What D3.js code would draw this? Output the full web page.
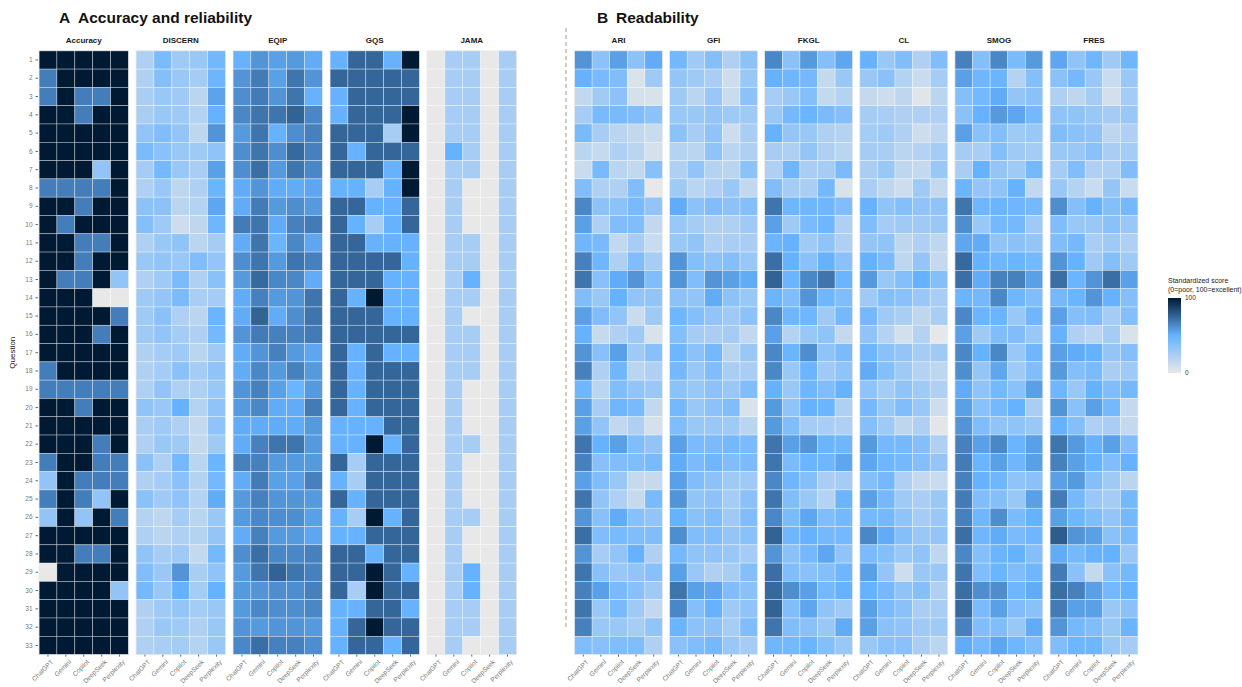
<!DOCTYPE html>
<html>
<head>
<meta charset="utf-8">
<script src="https://cdn.jsdelivr.net/npm/d3@7.9.0/dist/d3.min.js"></script>
<style>
  body { margin: 0; background: #fff; }
  text { font-family: "Liberation Sans", Arial, sans-serif; }
</style>
</head>
<body>
<svg id="chart" width="1242" height="687"></svg>
<script>
const models = ["ChatGPT", "Gemini", "Copilot", "DeepSeek", "Perplexity"];
const questions = d3.range(1, 34);

// standardized scores, one row per question, columns follow `models`
const accuracy = [
  [100,100,100,100,100],[67,100,100,100,100],[67,100,67,67,100],[100,100,67,100,100],[100,100,100,100,100],
  [100,100,100,100,100],[100,100,100,33,100],[67,67,67,67,100],[100,100,67,100,100],[100,67,100,100,100],
  [100,100,67,67,100],[100,100,67,100,100],[100,67,67,100,33],[100,100,100,0,0],[100,100,100,100,67],
  [100,100,100,67,100],[100,100,100,100,100],[67,100,100,100,100],[67,67,67,67,67],[100,100,67,100,100],
  [100,100,100,100,100],[100,100,100,67,100],[67,100,100,67,67],[33,100,67,67,67],[67,100,67,33,100],
  [33,100,33,100,67],[100,100,100,100,100],[100,100,67,67,100],[0,100,100,100,100],[100,100,100,100,33],
  [100,100,100,100,100],[100,100,100,100,100],[100,100,100,100,100]
];
const discern = [
  [22,42,28,30,45],[22,38,30,26,47],[24,30,28,18,55],[24,30,28,20,50],[33,40,32,16,60],
  [42,36,30,28,34],[26,44,30,24,56],[22,30,16,22,48],[35,35,18,20,54],[38,28,10,16,46],
  [22,30,34,18,26],[30,33,30,40,32],[22,28,42,22,36],[28,32,42,24,26],[28,36,22,18,48],
  [28,33,26,22,44],[22,26,28,18,28],[22,26,36,26,34],[22,33,22,22,30],[34,30,50,20,34],
  [24,28,22,14,34],[22,30,28,14,28],[36,22,44,18,48],[22,26,36,20,44],[36,28,34,20,52],
  [20,16,26,18,30],[22,18,22,20,32],[34,26,28,14,44],[40,30,60,24,34],[44,30,50,26,50],
  [22,28,32,26,30],[22,30,28,22,30],[22,24,26,20,30]
];
const eqip = [
  [50,60,56,58,52],[60,68,56,70,60],[62,68,60,70,50],[64,70,70,76,64],[58,70,50,62,66],
  [62,70,62,74,66],[62,72,58,70,64],[52,60,52,52,54],[52,68,58,62,58],[68,70,52,66,68],
  [52,70,48,64,54],[62,70,58,70,66],[58,74,64,64,52],[52,66,58,60,70],[52,76,52,62,70],
  [60,68,66,66,68],[52,60,66,58,54],[52,64,58,66,58],[60,66,56,48,58],[58,64,52,52,68],
  [52,52,52,52,58],[52,66,70,70,58],[66,66,58,58,58],[52,68,56,56,66],[58,66,60,60,58],
  [58,64,62,62,56],[52,66,58,58,54],[62,72,64,64,66],[58,70,76,70,66],[58,60,62,62,66],
  [58,64,62,62,64],[60,58,60,60,58],[64,72,66,66,62]
];
const gqs = [
  [50,75,75,50,100],[75,75,75,75,75],[50,75,75,75,75],[50,75,75,75,100],[75,75,75,25,100],
  [75,50,75,75,75],[75,75,75,50,100],[50,50,25,50,100],[75,75,50,50,75],[75,50,25,50,75],
  [75,75,50,50,50],[75,75,75,75,50],[75,75,75,50,50],[75,50,100,50,50],[75,75,75,50,50],
  [75,75,75,75,75],[75,50,75,50,50],[75,50,75,75,75],[75,50,75,75,75],[75,50,75,75,75],
  [50,50,50,75,75],[50,50,100,50,75],[75,25,75,75,75],[50,25,75,75,75],[75,50,75,75,75],
  [50,25,100,50,75],[50,50,75,75,75],[75,75,50,75,75],[75,75,100,75,50],[75,25,100,75,75],
  [50,50,75,75,50],[50,75,100,75,75],[50,75,75,50,75]
];
const jama = [
  [0,25,25,0,25],[0,25,25,0,25],[0,25,25,0,25],[0,25,25,0,25],[0,25,25,0,25],
  [0,50,25,0,25],[0,25,25,0,25],[0,25,0,0,25],[0,25,0,0,25],[0,25,0,0,25],
  [0,25,25,0,25],[0,25,25,0,25],[0,25,50,0,25],[0,25,25,0,25],[0,25,0,0,25],
  [0,25,25,0,25],[0,25,25,0,25],[0,25,25,0,25],[0,25,0,0,25],[0,25,0,0,25],
  [0,25,0,0,25],[0,25,25,0,25],[0,25,0,0,25],[0,25,0,0,25],[0,25,0,0,25],
  [0,25,25,0,25],[0,25,0,0,25],[0,25,0,0,25],[0,25,50,0,25],[0,25,50,0,25],
  [0,25,25,0,25],[0,25,25,0,25],[0,25,0,0,25]
];
const ari = [
  [60,35,56,35,52],[50,43,40,5,28],[15,27,35,7,6],[25,43,43,40,35],[43,25,18,15,12],
  [18,13,22,18,7],[12,43,18,15,37],[40,22,22,40,0],[64,35,35,43,33],[56,22,40,40,15],
  [46,43,15,25,12],[66,46,22,40,25],[70,37,52,60,40],[40,30,50,33,33],[56,40,33,12,28],
  [50,13,22,28,6],[60,37,56,28,37],[66,22,46,18,22],[46,18,40,33,30],[56,25,46,43,15],
  [56,33,15,22,7],[70,50,56,40,33],[66,37,40,40,43],[56,40,30,13,13],[70,33,22,13,43],
  [60,37,52,37,33],[72,40,43,40,40],[60,25,33,50,22],[70,37,30,33,37],[66,56,43,37,28],
  [70,30,43,28,15],[66,30,30,25,33],[40,37,40,40,22]
];
const gfi = [
  [45,28,38,22,35],[32,28,24,10,30],[28,18,30,12,35],[30,30,32,28,28],[35,25,34,10,24],
  [20,18,34,18,22],[22,33,20,18,35],[28,18,22,30,15],[52,35,40,35,38],[30,26,22,22,28],
  [30,33,22,24,24],[60,38,35,38,30],[60,40,60,56,52],[35,33,52,35,30],[46,38,33,28,35],
  [38,26,24,26,15],[46,35,44,18,30],[44,30,40,24,24],[35,30,35,30,40],[44,30,35,40,6],
  [40,30,30,28,18],[56,42,42,44,42],[52,42,46,40,42],[56,40,35,28,28],[60,33,35,26,36],
  [50,36,40,28,40],[62,40,40,32,36],[44,34,34,30,26],[56,30,22,25,38],[70,56,54,40,36],
  [64,38,50,28,34],[48,35,35,25,40],[36,40,44,30,26]
];
const fkgl = [
  [64,36,58,38,54],[50,46,44,14,30],[25,30,38,14,20],[30,44,48,42,38],[50,32,30,22,20],
  [25,22,32,22,18],[22,46,24,26,42],[40,26,24,44,6],[70,46,46,46,40],[56,28,42,46,22],
  [48,50,28,34,22],[72,50,36,50,36],[76,48,64,70,48],[48,40,60,46,40],[64,46,46,28,44],
  [56,20,30,34,14],[64,48,62,34,42],[64,30,48,28,34],[50,30,46,40,50],[58,34,50,48,22],
  [58,40,26,24,22],[70,56,60,48,46],[70,42,48,46,54],[64,46,38,24,26],[70,40,30,20,48],
  [64,42,54,40,44],[76,46,50,44,44],[60,36,44,54,34],[72,40,36,38,46],[74,62,56,44,50],
  [76,40,54,34,28],[70,40,36,30,52],[46,44,48,38,30]
];
const cl = [
  [50,30,40,22,40],[30,36,20,12,26],[14,10,16,3,18],[26,24,22,22,22],[26,28,22,10,16],
  [26,24,18,20,26],[24,30,16,14,30],[24,16,10,28,14],[50,34,38,34,34],[40,26,28,28,30],
  [32,34,16,22,16],[50,42,16,32,14],[58,30,38,50,38],[28,38,36,30,24],[44,28,24,16,24],
  [34,20,8,20,1],[46,36,32,26,28],[52,38,28,20,16],[34,26,34,28,22],[44,30,40,30,10],
  [38,28,16,22,2],[58,44,44,38,22],[54,46,44,38,32],[38,44,22,14,12],[56,44,28,24,30],
  [44,44,34,26,30],[64,52,38,30,32],[42,38,30,34,16],[56,32,10,30,30],[50,44,34,38,22],
  [56,42,36,24,24],[56,36,34,28,28],[30,36,36,24,18]
];
const smog = [
  [66,38,64,42,58],[56,46,48,20,38],[38,44,52,32,36],[36,50,58,54,44],[56,36,38,28,30],
  [26,24,38,28,26],[24,50,32,28,44],[48,32,34,50,15],[70,46,48,46,44],[62,30,44,44,28],
  [54,52,34,36,32],[74,50,46,48,44],[72,52,66,66,56],[48,44,64,46,40],[64,48,48,30,46],
  [56,28,40,40,30],[64,50,64,30,46],[62,32,54,28,40],[52,34,44,36,56],[56,36,44,50,24],
  [60,40,34,34,30],[66,56,64,48,56],[68,48,56,46,56],[66,50,46,34,36],[68,40,38,30,56],
  [66,46,62,42,50],[72,46,52,42,46],[64,38,48,50,38],[70,40,48,40,46],[72,62,62,46,52],
  [74,42,56,40,36],[66,40,40,30,52],[52,44,54,46,40]
];
const fres = [
  [54,34,46,28,46],[36,44,30,12,30],[22,16,26,8,26],[34,34,30,26,30],[40,36,34,16,22],
  [30,30,36,24,26],[26,40,22,22,40],[30,20,12,32,12],[62,38,50,38,44],[40,30,30,36,30],
  [40,44,24,28,22],[60,50,28,38,28],[72,48,60,72,56],[44,48,60,50,38],[56,38,40,26,38],
  [50,22,18,26,6],[56,52,50,32,38],[58,38,42,24,28],[46,30,50,40,44],[60,36,56,44,14],
  [50,38,22,24,14],[70,58,50,56,40],[66,56,50,40,50],[56,58,38,28,18],[68,44,30,26,44],
  [56,46,40,32,44],[78,60,56,36,42],[52,44,50,50,30],[68,36,14,36,44],[72,66,56,44,50],
  [68,56,56,30,36],[60,44,40,30,48],[40,46,46,30,26]
];

const panelA = [
  { name: "Accuracy", values: accuracy },
  { name: "DISCERN", values: discern },
  { name: "EQIP", values: eqip },
  { name: "GQS", values: gqs },
  { name: "JAMA", values: jama }
];
const panelB = [
  { name: "ARI", values: ari },
  { name: "GFI", values: gfi },
  { name: "FKGL", values: fkgl },
  { name: "CL", values: cl },
  { name: "SMOG", values: smog },
  { name: "FRES", values: fres }
];

const svg = d3.select("#chart");
const color = d3.scaleLinear().domain([0, 50, 100]).range(["#e8e8e8", "#66b2ff", "#011a33"]);

const gridTop = 50.8, gridBottom = 654.6;
const y = d3.scaleBand().domain(questions).range([gridTop, gridBottom]);

function drawPanels(panels, x0, step, width, withYAxis) {
  panels.forEach((p, i) => {
    const left = x0 + i * step;
    const x = d3.scaleBand().domain(models).range([left, left + width]);
    const g = svg.append("g");

    g.append("text")
      .attr("x", left + width / 2).attr("y", 42.5)
      .attr("text-anchor", "middle")
      .attr("font-size", 8).attr("font-weight", "bold").attr("fill", "#1a1a1a")
      .text(p.name);

    const cells = [];
    p.values.forEach((row, r) => row.forEach((v, c) => cells.push({ q: questions[r], m: models[c], v })));

    g.selectAll("rect.cell").data(cells).join("rect")
      .attr("class", "cell")
      .attr("x", d => x(d.m)).attr("y", d => y(d.q))
      .attr("width", x.bandwidth()).attr("height", y.bandwidth())
      .attr("fill", d => color(d.v))
      .attr("stroke", "rgba(255,255,255,0.55)").attr("stroke-width", 0.6);

    g.append("rect")
      .attr("x", left).attr("y", gridTop).attr("width", width).attr("height", gridBottom - gridTop)
      .attr("fill", "none").attr("stroke", "#e4e4e4").attr("stroke-width", 0.6);

    const xAxis = g.append("g").attr("transform", `translate(0,${gridBottom})`)
      .call(d3.axisBottom(x).tickSize(2).tickPadding(1));
    xAxis.select(".domain").remove();
    xAxis.selectAll(".tick line").attr("stroke", "#666");
    xAxis.selectAll(".tick text")
      .attr("font-size", 6.5).attr("fill", "#777")
      .attr("text-anchor", "end")
      .attr("dy", "0.35em")
      .attr("transform", "translate(2,4) rotate(-45)");

    if (withYAxis && i === 0) {
      const yAxis = g.append("g").attr("transform", `translate(${left - 1},0)`)
        .call(d3.axisLeft(y).tickSize(2.5).tickPadding(3));
      yAxis.select(".domain").remove();
      yAxis.selectAll(".tick line").attr("stroke", "#666");
      yAxis.selectAll(".tick text").attr("font-size", 6.5).attr("fill", "#777");
    }
  });
}

drawPanels(panelA, 39, 97, 89.5, true);
drawPanels(panelB, 574.5, 95.1, 88, false);

// y title
svg.append("text")
  .attr("transform", `translate(15,${(gridTop + gridBottom) / 2}) rotate(-90)`)
  .attr("text-anchor", "middle").attr("font-size", 8).attr("fill", "#1a1a1a")
  .text("Question");

// panel titles
svg.append("text").attr("x", 59).attr("y", 22.5)
  .attr("font-size", 15.5).attr("font-weight", "bold").attr("fill", "#111")
  .text("A");
svg.append("text").attr("x", 78).attr("y", 22.5)
  .attr("font-size", 15.5).attr("font-weight", "bold").attr("fill", "#111")
  .text("Accuracy and reliability");
svg.append("text").attr("x", 597).attr("y", 22.5)
  .attr("font-size", 15.5).attr("font-weight", "bold").attr("fill", "#111")
  .text("B");
svg.append("text").attr("x", 616).attr("y", 22.5)
  .attr("font-size", 15.5).attr("font-weight", "bold").attr("fill", "#111")
  .text("Readability");

// divider
svg.append("line")
  .attr("x1", 566).attr("x2", 566).attr("y1", 28).attr("y2", 628)
  .attr("stroke", "#9a9a9a").attr("stroke-width", 1).attr("stroke-dasharray", "4,3");

// legend
const legX = 1168, legTop = 298, legBottom = 373, legW = 13;
const defs = svg.append("defs");
const grad = defs.append("linearGradient").attr("id", "legGrad")
  .attr("x1", 0).attr("x2", 0).attr("y1", 1).attr("y2", 0);
d3.range(0, 101, 10).forEach(v => {
  grad.append("stop").attr("offset", `${v}%`).attr("stop-color", color(v));
});
svg.append("text").attr("x", legX).attr("y", 283).attr("font-size", 7).attr("fill", "#1a1a1a")
  .text("Standardized score");
svg.append("text").attr("x", legX).attr("y", 291.5).attr("font-size", 7).attr("fill", "#1a1a1a")
  .text("(0=poor, 100=excellent)");
svg.append("rect").attr("x", legX).attr("y", legTop).attr("width", legW).attr("height", legBottom - legTop)
  .attr("fill", "url(#legGrad)");
const legScale = d3.scaleLinear().domain([0, 100]).range([legBottom, legTop]);
[0, 100].forEach(v => {
  svg.append("text").attr("x", legX + legW + 4).attr("y", legScale(v))
    .attr("dy", "0.35em").attr("font-size", 6.5).attr("fill", "#333").text(v);
});
</script>
</body>
</html>
